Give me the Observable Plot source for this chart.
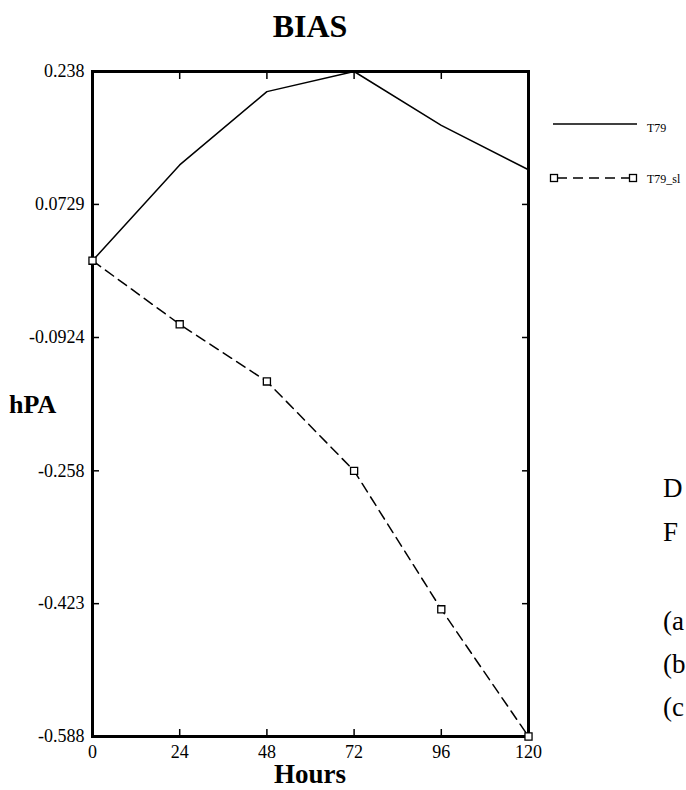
<!DOCTYPE html>
<html>
<head>
<meta charset="utf-8">
<script src="https://cdn.jsdelivr.net/npm/d3@7"></script>
<script src="https://cdn.jsdelivr.net/npm/@observablehq/plot@0.6"></script>
<style>
  html, body { margin: 0; padding: 0; background: #fff; overflow: hidden; }
  #wrap { position: relative; width: 686px; height: 790px; }
  #wrap > svg { position: absolute; left: 0; top: 0; }
</style>
</head>
<body>
<div id="wrap"></div>
<script>
// ---- data ----
const hours = [0, 24, 48, 72, 96, 120];
const t79 = [0.003, 0.122, 0.213, 0.238, 0.171, 0.116];
const t79sl = [0.003, -0.076, -0.147, -0.258, -0.430, -0.588];
const xTicks = [0, 24, 48, 72, 96, 120];
const yTicks = [0.238, 0.0729, -0.0924, -0.258, -0.423, -0.588];
const seriesNames = ["T79", "T79_sl"];
const titleText = "BIAS";
const xLabel = "Hours";
const yLabel = "hPA";
const sideText = ["D", "F", "(a", "(b", "(c"];

const rowsA = hours.map((h, i) => ({h, v: t79[i]}));
const rowsB = hours.map((h, i) => ({h, v: t79sl[i]}));

const serif = "'Liberation Serif', 'Times New Roman', serif";

const chart = Plot.plot({
  width: 686,
  height: 790,
  marginLeft: 92,
  marginRight: 158,
  marginTop: 71,
  marginBottom: 54,
  style: {fontFamily: serif, background: "transparent", color: "black"},
  x: {domain: [0, 120]},
  y: {domain: [-0.588, 0.238]},
  marks: [
    Plot.axisX({anchor: "bottom", ticks: xTicks, tickSize: -7, tickPadding: 16, strokeWidth: 1.5,
      tickFormat: d => String(d), fontSize: 18, fill: "black", label: null}),
    Plot.axisX({anchor: "top", ticks: xTicks, tickSize: -7, strokeWidth: 1.5, tickFormat: () => "", label: null}),
    Plot.axisY({anchor: "left", ticks: yTicks, tickSize: -7, tickPadding: 15, strokeWidth: 1.5,
      tickFormat: d => String(d), fontSize: 18, fill: "black", label: null}),
    Plot.axisY({anchor: "right", ticks: yTicks, tickSize: -7, strokeWidth: 1.5, tickFormat: () => "", label: null}),
    Plot.line(rowsA, {x: "h", y: "v", stroke: "black", strokeWidth: 1.5}),
    Plot.line(rowsB, {x: "h", y: "v", stroke: "black", strokeWidth: 1.5, strokeDasharray: "10,6"}),
    Plot.frame({stroke: "black", strokeWidth: 3}),
    Plot.dot(rowsB, {x: "h", y: "v", symbol: "square", r: 4, fill: "white", stroke: "black", strokeWidth: 1.3})
  ]
});
document.getElementById("wrap").appendChild(chart);

// ---- overlay texts & legend ----
const ov = d3.select("#wrap").append("svg")
  .attr("width", 686).attr("height", 790)
  .style("font-family", serif);

ov.append("text").attr("x", 310).attr("y", 37).attr("text-anchor", "middle")
  .attr("font-weight", "bold").attr("font-size", 32).text(titleText);
ov.append("text").attr("x", 310).attr("y", 783).attr("text-anchor", "middle")
  .attr("font-weight", "bold").attr("font-size", 27).text(xLabel);
ov.append("text").attr("x", 9).attr("y", 413)
  .attr("font-weight", "bold").attr("font-size", 26).text(yLabel);

// legend
const lg = ov.append("g");
lg.append("line").attr("x1", 553).attr("x2", 637).attr("y1", 124).attr("y2", 124)
  .attr("stroke", "black").attr("stroke-width", 1.3);
lg.append("text").attr("x", 647).attr("y", 132).attr("font-size", 12).text(seriesNames[0]);
lg.append("line").attr("x1", 557).attr("x2", 631).attr("y1", 178).attr("y2", 178)
  .attr("stroke", "black").attr("stroke-width", 1.3).attr("stroke-dasharray", "10,6");
[554, 633].forEach(cx => {
  lg.append("rect").attr("x", cx - 3.5).attr("y", 174.5).attr("width", 7).attr("height", 7)
    .attr("fill", "white").attr("stroke", "black").attr("stroke-width", 1.3);
});
lg.append("text").attr("x", 647).attr("y", 183).attr("font-size", 12).text(seriesNames[1]);

// side text
const sideY = [497, 541, 630, 673, 716];
sideText.forEach((t, i) => {
  ov.append("text").attr("x", 663).attr("y", sideY[i]).attr("font-size", 27).text(t);
});
</script>
</body>
</html>
